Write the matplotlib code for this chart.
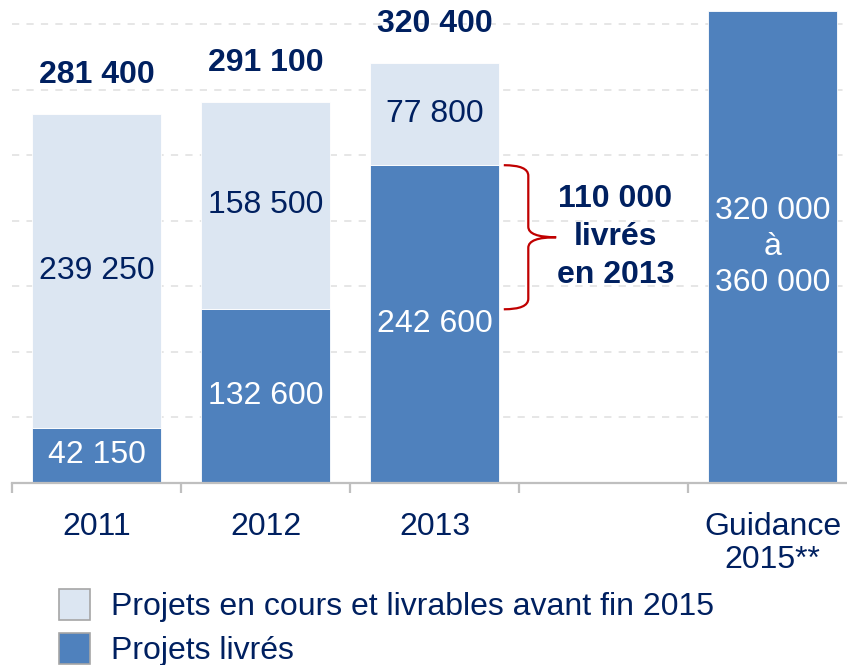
import numpy as np
import matplotlib.pyplot as plt
from matplotlib.path import Path
from matplotlib.patches import PathPatch, Rectangle

plt.rcParams['font.family'] = ['Liberation Sans', 'DejaVu Sans']

# data
categories = ["2011", "2012", "2013", "", "Guidance\n2015**"]
livres = [42150, 132600, 242600]        # projets livrés
en_cours = [239250, 158500, 77800]      # en cours et livrables avant fin 2015
totals = [281400, 291100, 320400]
guidance_low = 320000
guidance_high = 360000
delivered_2013 = 110000
legend_labels = ["Projets en cours et livrables avant fin 2015", "Projets livrés"]

NAVY = '#002060'
LIGHT = '#dce6f2'
DARK = '#4f81bd'
GREY = '#bfbfbf'
RED = '#c00000'


def fmt(v):
    return f"{v:,}".replace(",", " ")


W, H = 847, 665
fig = plt.figure(figsize=(W / 100, H / 100), dpi=100)
ax = fig.add_axes([12 / W, (H - 483) / H, 845 / W, 483 / H])

x = np.arange(len(livres))
bw = 0.76
ax.bar(x, livres, width=bw, color=DARK, edgecolor='white', lw=0.6, zorder=2)
ax.bar(x, en_cours, bottom=livres, width=bw, color=LIGHT, edgecolor='white', lw=0.6, zorder=2)
ax.bar(4, guidance_high, width=bw, color=DARK, edgecolor='white', lw=0.6, zorder=2)

# labels in the bars
for i in range(len(livres)):
    ax.text(i, livres[i] / 2, fmt(livres[i]), ha='center', va='center',
            fontsize=23, color='white', zorder=3)
    ax.text(i, livres[i] + en_cours[i] / 2, fmt(en_cours[i]), ha='center', va='center',
            fontsize=23, color=NAVY, zorder=3)
    ax.annotate(fmt(totals[i]), (i, totals[i]), xytext=(0, 28), textcoords='offset points',
                ha='center', va='center', fontsize=23, fontweight='bold', color=NAVY,
                annotation_clip=False)

ax.text(4, guidance_high / 2, f"{fmt(guidance_low)}\nà\n{fmt(guidance_high)}",
        ha='center', va='center', fontsize=23, color='white', linespacing=1.27, zorder=3)

# brace for the 2013 deliveries
y_top = livres[2]
y_bot = livres[2] - delivered_2013
y_mid = (y_top + y_bot) / 2
x0, x1, x2 = 2.41, 2.555, 2.72
r = 8000
verts = [(x0, y_top), (x1, y_top), (x1, y_top - r),
         (x1, y_mid + r),
         (x1, y_mid), (x2, y_mid),
         (x1, y_mid), (x1, y_mid - r),
         (x1, y_bot + r),
         (x1, y_bot), (x0, y_bot)]
codes = [Path.MOVETO, Path.CURVE3, Path.CURVE3,
         Path.LINETO,
         Path.CURVE3, Path.CURVE3,
         Path.CURVE3, Path.CURVE3,
         Path.LINETO,
         Path.CURVE3, Path.CURVE3]
ax.add_patch(PathPatch(Path(verts, codes), fill=False, edgecolor=RED, lw=1.6, zorder=3))
ax.text(3.07, y_mid, f"{fmt(delivered_2013)}\nlivrés\nen 2013", ha='center', va='center',
        fontsize=23, fontweight='bold', color=NAVY, linespacing=1.35)

# axes styling
ax.set_xlim(-0.5, 4.5)
ax.set_ylim(0, 368700)
ax.set_yticks(np.arange(50000, 360000, 50000))
ax.yaxis.grid(True, color='#e4e4e4', lw=1.3, ls=(0, (4, 4)))
ax.set_axisbelow(True)
ax.tick_params(axis='y', left=False, labelleft=False)
for s in ['top', 'right', 'left']:
    ax.spines[s].set_visible(False)
ax.spines['bottom'].set_color(GREY)
ax.spines['bottom'].set_linewidth(1.6)

ax.set_xticks(range(len(categories)))
ax.set_xticklabels(categories, fontsize=23, color=NAVY, linespacing=1.13)
ax.tick_params(axis='x', which='major', length=0, pad=21)
ax.set_xticks(np.arange(-0.5, 5, 1), minor=True)
ax.tick_params(axis='x', which='minor', length=7.5, width=1.6, color=GREY, direction='out')

# legend drawn by hand
for k, (lab, col) in enumerate(zip(legend_labels, [LIGHT, DARK])):
    top = 589 + k * 44
    fig.patches.append(Rectangle((59 / W, 1 - (top + 31) / H), 31 / W, 31 / H,
                                 transform=fig.transFigure, facecolor=col,
                                 edgecolor='#a6a6a6', lw=1.2))
    fig.text(111 / W, 1 - (top + 18) / H, lab, fontsize=23, color=NAVY, va='center')

fig.savefig('out.png', dpi=100)
